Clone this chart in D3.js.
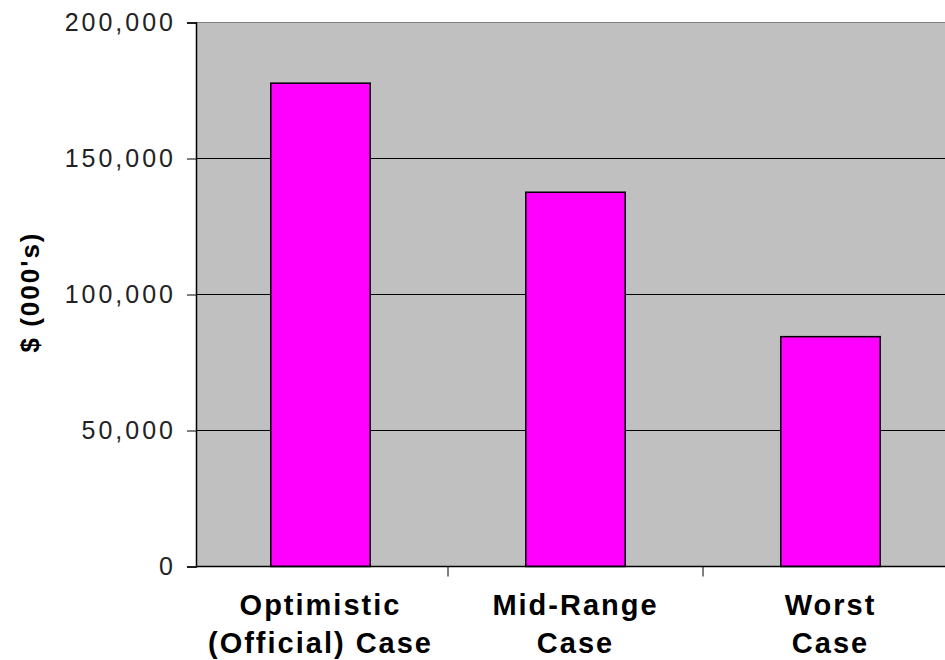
<!DOCTYPE html>
<html>
<head>
<meta charset="utf-8">
<script src="https://cdn.jsdelivr.net/npm/d3@7"></script>
<style>
  body { margin: 0; background: #fff; }
  svg { display: block; }
</style>
</head>
<body>
<div id="main"></div>
<script>
const categories = ["Optimistic|(Official) Case", "Mid-Range|Case", "Worst|Case"];
const values = [177700, 137600, 84500];
const yTicks = [0, 50000, 100000, 150000, 200000];

const width = 945;
const height = 660;
const plot = { left: 196, right: 958, top: 22.5, bottom: 566.5 };

const svg = d3.select("#main").append("svg").attr("width", width).attr("height", height);

const xScale = d3
  .scaleBand()
  .domain(categories)
  .range([193, 958])
  .paddingInner(0.61)
  .paddingOuter(0.305);

const yScale = d3.scaleLinear().domain([0, 200000]).range([plot.bottom, plot.top]);

// plot area
svg
  .append("rect")
  .attr("x", plot.left)
  .attr("y", yScale(200000))
  .attr("width", plot.right - plot.left)
  .attr("height", yScale(0) - yScale(200000))
  .attr("fill", "#c0c0c0");

// gridlines
svg
  .selectAll(".grid")
  .data(yTicks.filter((d) => d > 0))
  .enter()
  .append("line")
  .attr("class", "grid")
  .attr("x1", plot.left)
  .attr("x2", plot.right)
  .attr("y1", (d) => yScale(d))
  .attr("y2", (d) => yScale(d))
  .attr("stroke", (d) => (d === 200000 ? "#808080" : "#000"))
  .attr("stroke-width", 1);

// bars
svg
  .selectAll(".bar")
  .data(values)
  .enter()
  .append("rect")
  .attr("class", "bar")
  .attr("x", (d, i) => xScale(categories[i]))
  .attr("y", (d) => yScale(d))
  .attr("width", xScale.bandwidth())
  .attr("height", (d) => yScale(0) - yScale(d))
  .attr("fill", "#ff00ff")
  .attr("stroke", "#000")
  .attr("stroke-width", 1.5);

// y axis
const yAxis = d3
  .axisLeft(yScale)
  .tickValues(yTicks)
  .tickSize(9)
  .tickPadding(11)
  .tickFormat(d3.format(","));

const yg = svg.append("g").attr("transform", `translate(${plot.left}, 0)`).call(yAxis);
yg.select(".domain").attr("stroke", "#000").attr("stroke-width", 1.5);
yg.selectAll(".tick line").attr("stroke", "#000");
yg.selectAll(".tick text")
  .attr("fill", "#222")
  .style("font-family", "'Liberation Sans', Arial, sans-serif")
  .style("font-size", "25px")
  .style("letter-spacing", "3px");

// x axis baseline
svg
  .append("line")
  .attr("x1", plot.left)
  .attr("x2", plot.right)
  .attr("y1", yScale(0))
  .attr("y2", yScale(0))
  .attr("stroke", "#000")
  .attr("stroke-width", 1.5);

// x tick marks between categories
svg
  .selectAll(".xtick")
  .data(categories.slice(1))
  .enter()
  .append("line")
  .attr("class", "xtick")
  .attr("x1", (d) => xScale(d) - (xScale.step() * xScale.paddingInner()) / 2)
  .attr("x2", (d) => xScale(d) - (xScale.step() * xScale.paddingInner()) / 2)
  .attr("y1", yScale(0))
  .attr("y2", yScale(0) + 10)
  .attr("stroke", "#000");

// category labels
const labels = svg
  .selectAll(".xlabel")
  .data(categories)
  .enter()
  .append("text")
  .attr("class", "xlabel")
  .attr("text-anchor", "middle")
  .style("font-family", "'Liberation Sans', Arial, sans-serif")
  .style("font-size", "29px")
  .style("font-weight", "bold")
  .style("letter-spacing", "2px");

labels
  .selectAll("tspan")
  .data((d) => d.split("|").map((t) => ({ t, c: d })))
  .enter()
  .append("tspan")
  .attr("x", (d) => xScale(d.c) + xScale.bandwidth() / 2)
  .attr("y", (d, i) => 615 + i * 38)
  .text((d) => d.t);

// y axis title
svg
  .append("text")
  .attr("transform", "translate(39, 292) rotate(-90)")
  .attr("text-anchor", "middle")
  .style("font-family", "'Liberation Sans', Arial, sans-serif")
  .style("font-size", "26px")
  .style("font-weight", "bold")
  .style("letter-spacing", "2px")
  .text("$ (000's)");
</script>
</body>
</html>
